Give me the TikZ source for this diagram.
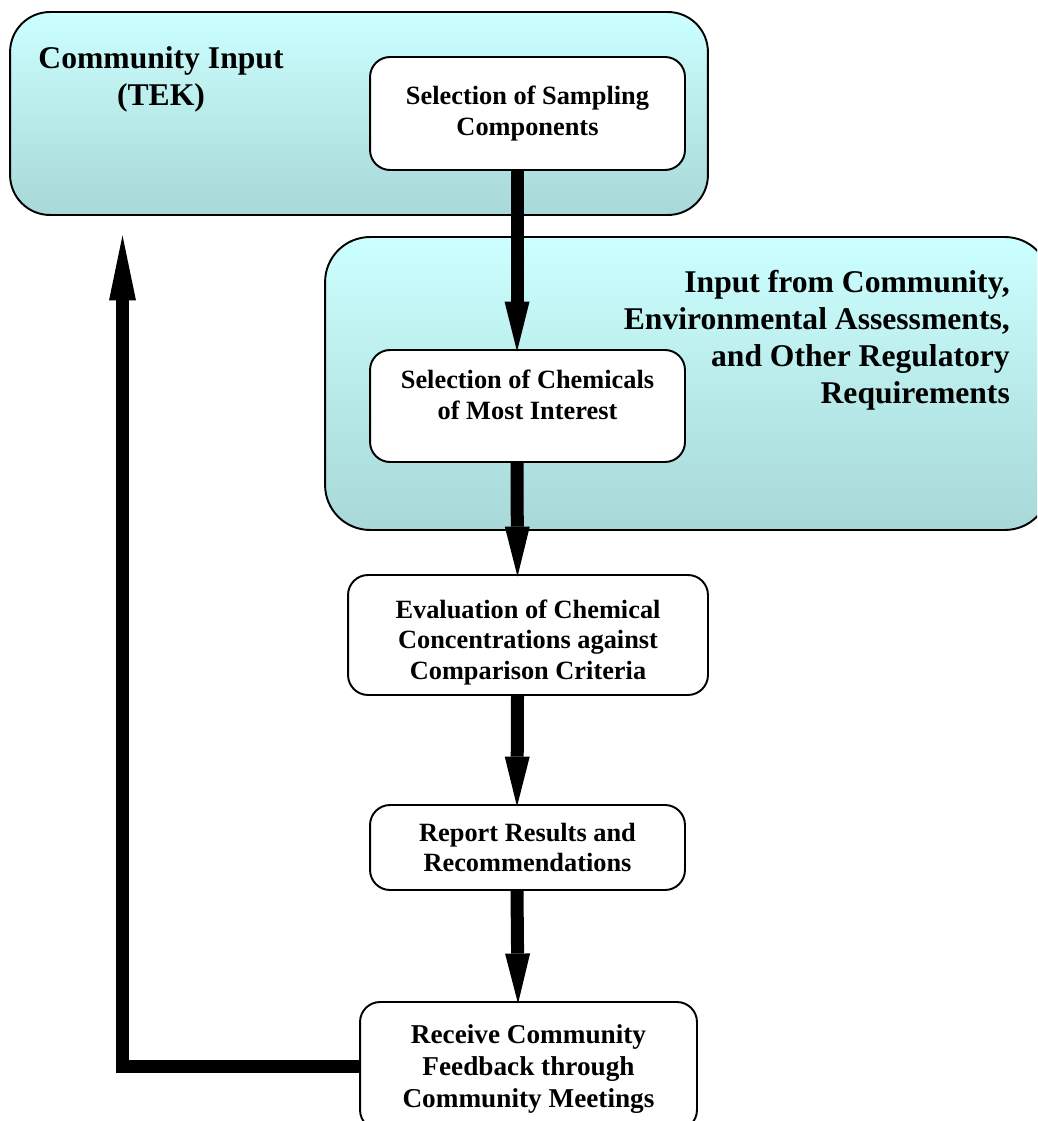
\documentclass[tikz,border=0pt]{standalone}
\usepackage{fontspec}
\setmainfont{Liberation Serif}
\usepackage{xcolor}
\usepackage{tikz}
\usetikzlibrary{arrows.meta,positioning}
\definecolor{paletop}{RGB}{204,255,255}
\definecolor{palebot}{RGB}{168,216,216}

\begin{document}
\begin{tikzpicture}[x=0.02cm,y=-0.02cm,
  panel/.style={draw,line width=1.1pt,rounded corners=0.8cm,top color=paletop,bottom color=palebot},
  stepbox/.style={draw,line width=1.1pt,rounded corners=0.4cm,fill=white,align=center,
    font=\fontsize{15}{17.5}\selectfont\bfseries},
  bigtext/.style={font=\fontsize{18}{21}\selectfont\bfseries},
  flow/.style={line width=7.4pt,shorten >=-0.05cm,-{Triangle[width=0.5cm,length=1cm,line width=0pt]}}]
  \useasboundingbox (0,0) rectangle (1037,1121);
  \clip (0,0) rectangle (1037,1121);
  \node (tek) [panel,minimum width=13.96cm,minimum height=4.06cm] at (359,113.5) {};
  \node (tektitle) [bigtext,align=center] at (161,79) {Community Input\\(TEK)};
  \node (sampling) [stepbox,minimum width=6.3cm,minimum height=2.26cm] at (527.5,113.5) {Selection of Sampling\\Components};
  \node (envpanel) [panel,rounded corners=0.9cm,minimum width=14.5cm,minimum height=5.86cm] at (687.5,383.5) {};
  \node (envtitle) [bigtext,align=right,anchor=east] at (1016,340) {Input from Community,\\Environmental Assessments,\\and Other Regulatory\\Requirements};
  \node (chem) [stepbox,minimum width=6.3cm,minimum height=2.24cm] at (527.5,406) {Selection of Chemicals\\of Most Interest\rule[-12.7pt]{0pt}{0pt}};
  \node (eval) [stepbox,minimum width=7.2cm,minimum height=2.4cm] at (528,635) {\rule{0pt}{19pt}Evaluation of Chemical\\Concentrations against\\Comparison Criteria};
  \node (report) [stepbox,minimum width=6.3cm,minimum height=1.7cm] at (527.5,847.5) {Report Results and\\Recommendations};
  \node (receive) [stepbox,minimum width=6.74cm,minimum height=2.56cm,
    font=\fontsize{15.5}{18.2}\selectfont\bfseries] at (528.5,1066) {\rule{0pt}{13.7pt}Receive Community\\Feedback through\\Community Meetings};
  \coordinate (backtip) at (122.5,238);
  % main flow, a little left of the box centres
  \draw [flow] ([xshift=-0.21cm]sampling.south) -- ([xshift=-0.21cm]chem.north);
  \draw [flow] ([xshift=-0.21cm]chem.south) -- ([xshift=-0.21cm]eval.north);
  \draw [flow] ([xshift=-0.21cm]eval.south) -- ([xshift=-0.21cm]report.north);
  \draw [flow] ([xshift=-0.21cm]report.south) -- ([xshift=-0.21cm]receive.north);
  \draw [flow,-{Triangle[width=0.54cm,length=1.3cm,line width=0pt]}] (receive.west) -| (backtip);
\end{tikzpicture}
\end{document}
